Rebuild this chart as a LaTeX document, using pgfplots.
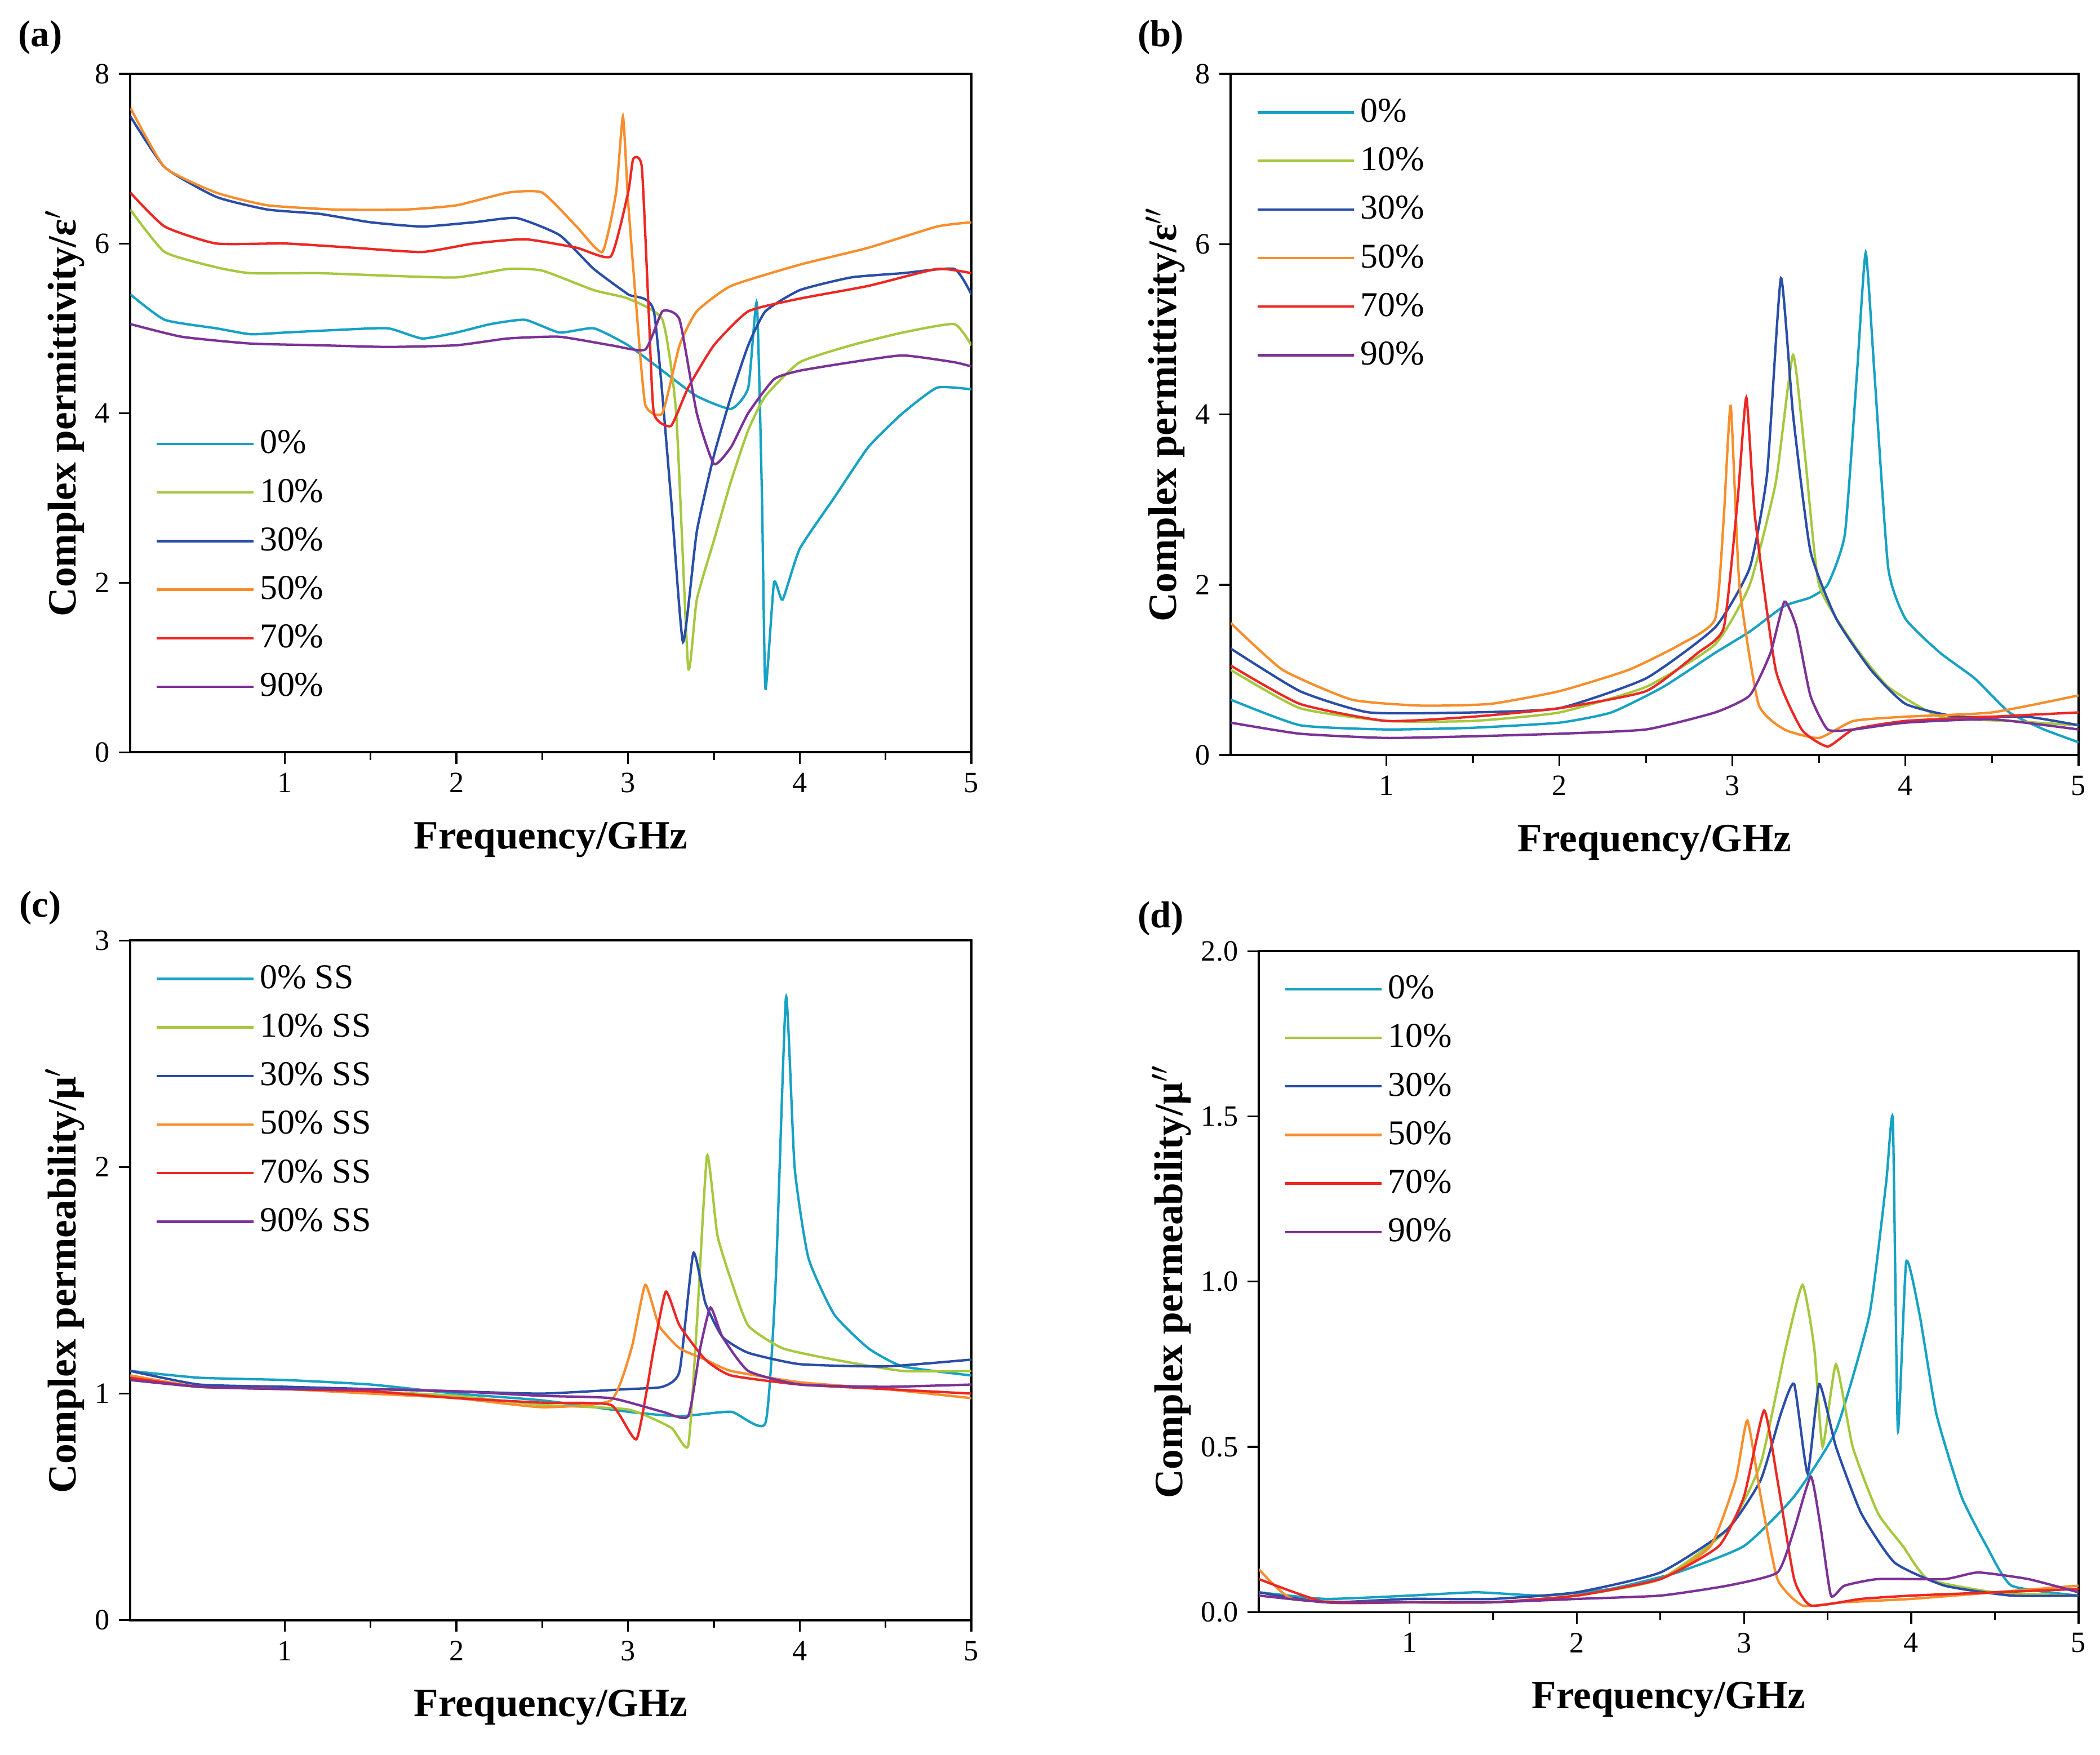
\documentclass[border=0pt]{standalone}
\usepackage{pgfplots}
\pgfplotsset{compat=1.18}
\usepackage{fontspec}
\setmainfont{Liberation Serif}
\definecolor{c0}{RGB}{23,162,196}
\definecolor{c1}{RGB}{166,200,62}
\definecolor{c3}{RGB}{42,78,168}
\definecolor{c5}{RGB}{247,142,44}
\definecolor{c7}{RGB}{236,40,36}
\definecolor{c9}{RGB}{124,50,150}
\pgfplotsset{
 base/.style={scale only axis, xmin=0.1, xmax=5, xtick={1,2,3,4,5},
  minor x tick num=1, axis line style={line width=0.8pt},
  tick align=outside, xtick pos=bottom, ytick pos=left,
  tick style={black, line width=0.7pt},
  /pgf/number format/assume math mode=true,
  ticklabel style={font=\rmfamily\fontsize{11}{11}\selectfont},
  label style={font=\rmfamily\bfseries\fontsize{15}{15}\selectfont},
  xlabel={Frequency/GHz}, xlabel style={yshift=-4pt}, ylabel style={yshift=-3pt},
  legend style={draw=none, fill=none, font=\rmfamily\fontsize{13}{15}\selectfont, row sep=4pt},
  legend cell align=left,
  legend image code/.code={\draw[#1] (0pt,0pt) -- (36pt,0pt);},
  every axis plot/.append style={line width=0.9pt, smooth, tension=0.3},
 }}
\begin{document}
\begin{tikzpicture}
\path[use as bounding box] (0,0) rectangle (781.5bp,653bp);
\node[font=\bfseries\fontsize{14}{14}\selectfont] at (15bp,639bp) {(a)};
\node[font=\bfseries\fontsize{14}{14}\selectfont] at (432bp,639bp) {(b)};
\node[font=\bfseries\fontsize{14}{14}\selectfont] at (15bp,315bp) {(c)};
\node[font=\bfseries\fontsize{14}{14}\selectfont] at (432bp,311bp) {(d)};
% (a)
\begin{axis}[base, at={(48.5bp,373bp)}, anchor=south west, width=313bp, height=252.5bp,
 ymin=0, ymax=8, ytick={0,2,4,6,8}, ylabel={Complex permittivity/ε$'$},
 legend style={at={(0.02,0.06)}, anchor=south west}]
\addplot[c0] coordinates {(0.1,5.4)(0.3,5.1)(0.6,5.0)(0.8,4.93)(1.0,4.95)(1.3,4.98)(1.6,5.0)(1.8,4.88)(2.0,4.95)(2.2,5.05)(2.4,5.1)(2.6,4.95)(2.8,5.0)(3.0,4.8)(3.2,4.5)(3.4,4.2)(3.6,4.05)(3.7,4.3)(3.75,5.3)(3.78,3.0)(3.8,0.75)(3.85,2.0)(3.9,1.8)(4.0,2.4)(4.2,3.0)(4.4,3.6)(4.6,4.0)(4.8,4.3)(5.0,4.28)};
\addplot[c1] coordinates {(0.1,6.4)(0.3,5.9)(0.6,5.72)(0.8,5.65)(1.2,5.65)(1.6,5.62)(2.0,5.6)(2.3,5.7)(2.5,5.68)(2.8,5.45)(3.0,5.35)(3.2,5.1)(3.28,4.0)(3.35,1.0)(3.4,1.8)(3.5,2.5)(3.6,3.2)(3.7,3.8)(3.8,4.2)(4.0,4.6)(4.3,4.8)(4.6,4.95)(4.9,5.05)(5.0,4.8)};
\addplot[c3] coordinates {(0.1,7.5)(0.3,6.9)(0.6,6.55)(0.9,6.4)(1.2,6.35)(1.5,6.25)(1.8,6.2)(2.1,6.25)(2.35,6.3)(2.6,6.1)(2.8,5.7)(3.0,5.4)(3.15,5.2)(3.25,3.0)(3.32,1.3)(3.4,2.6)(3.5,3.5)(3.6,4.2)(3.7,4.8)(3.8,5.2)(4.0,5.45)(4.3,5.6)(4.6,5.65)(4.9,5.7)(5.0,5.4)};
\addplot[c5] coordinates {(0.1,7.6)(0.3,6.9)(0.6,6.6)(0.9,6.45)(1.3,6.4)(1.7,6.4)(2.0,6.45)(2.3,6.6)(2.5,6.6)(2.7,6.2)(2.85,5.9)(2.93,6.6)(2.97,7.5)(3.0,6.5)(3.05,5.2)(3.1,4.1)(3.2,4.0)(3.3,4.8)(3.4,5.2)(3.6,5.5)(4.0,5.75)(4.4,5.95)(4.8,6.2)(5.0,6.25)};
\addplot[c7] coordinates {(0.1,6.6)(0.3,6.2)(0.6,6.0)(1.0,6.0)(1.4,5.95)(1.8,5.9)(2.1,6.0)(2.4,6.05)(2.7,5.95)(2.9,5.85)(3.0,6.6)(3.03,7.0)(3.08,6.9)(3.12,5.2)(3.15,4.0)(3.25,3.85)(3.35,4.3)(3.5,4.8)(3.7,5.2)(4.0,5.35)(4.4,5.5)(4.8,5.7)(5.0,5.65)};
\addplot[c9] coordinates {(0.1,5.05)(0.4,4.9)(0.8,4.82)(1.2,4.8)(1.6,4.78)(2.0,4.8)(2.3,4.88)(2.6,4.9)(2.9,4.8)(3.1,4.75)(3.2,5.2)(3.3,5.1)(3.4,4.0)(3.5,3.4)(3.6,3.6)(3.7,4.0)(3.85,4.4)(4.0,4.5)(4.3,4.6)(4.6,4.68)(4.9,4.6)(5.0,4.55)};
\legend{0\%,10\%,30\%,50\%,70\%,90\%}
\end{axis}
% (b)
\begin{axis}[base, at={(458bp,372bp)}, anchor=south west, width=315.5bp, height=253.5bp,
 ymin=0, ymax=8, ytick={0,2,4,6,8}, ylabel={Complex permittivity/ε$''$},
 legend style={at={(0.02,0.98)}, anchor=north west}]
\addplot[c0] coordinates {(0.1,0.65)(0.5,0.35)(1.0,0.3)(1.5,0.32)(2.0,0.38)(2.3,0.5)(2.6,0.8)(2.9,1.2)(3.1,1.45)(3.3,1.75)(3.45,1.85)(3.55,2.0)(3.65,2.6)(3.72,4.5)(3.77,5.9)(3.82,4.5)(3.9,2.2)(4.0,1.6)(4.2,1.2)(4.4,0.9)(4.6,0.5)(4.8,0.3)(5.0,0.15)};
\addplot[c1] coordinates {(0.1,1.0)(0.5,0.55)(1.0,0.4)(1.5,0.4)(2.0,0.5)(2.5,0.8)(2.9,1.3)(3.1,2.0)(3.25,3.2)(3.35,4.7)(3.42,3.5)(3.5,2.0)(3.7,1.3)(3.9,0.8)(4.2,0.45)(4.6,0.4)(5.0,0.35)};
\addplot[c3] coordinates {(0.1,1.25)(0.5,0.75)(0.9,0.5)(1.5,0.5)(2.0,0.55)(2.5,0.9)(2.9,1.5)(3.1,2.2)(3.2,3.3)(3.28,5.6)(3.35,4.0)(3.45,2.4)(3.6,1.6)(3.8,1.0)(4.0,0.6)(4.3,0.45)(4.7,0.45)(5.0,0.35)};
\addplot[c5] coordinates {(0.1,1.55)(0.4,1.0)(0.8,0.65)(1.2,0.58)(1.6,0.6)(2.0,0.75)(2.4,1.0)(2.7,1.3)(2.9,1.6)(2.95,2.8)(2.99,4.1)(3.04,2.0)(3.15,0.6)(3.3,0.3)(3.5,0.2)(3.7,0.4)(4.0,0.45)(4.5,0.5)(5.0,0.7)};
\addplot[c7] coordinates {(0.1,1.05)(0.5,0.6)(1.0,0.4)(1.5,0.45)(2.0,0.55)(2.5,0.75)(2.8,1.2)(2.95,1.5)(3.03,3.0)(3.08,4.2)(3.13,2.8)(3.25,1.0)(3.4,0.3)(3.55,0.1)(3.7,0.3)(4.0,0.4)(4.5,0.45)(5.0,0.5)};
\addplot[c9] coordinates {(0.1,0.38)(0.5,0.25)(1.0,0.2)(1.5,0.22)(2.0,0.25)(2.5,0.3)(2.9,0.5)(3.1,0.7)(3.22,1.2)(3.3,1.8)(3.37,1.5)(3.45,0.7)(3.55,0.3)(3.7,0.3)(4.0,0.38)(4.5,0.42)(5.0,0.3)};
\legend{0\%,10\%,30\%,50\%,70\%,90\%}
\end{axis}
% (c)
\begin{axis}[base, at={(48.5bp,50bp)}, anchor=south west, width=313bp, height=253bp,
 ymin=0, ymax=3, ytick={0,1,2,3}, ylabel={Complex permeability/μ$'$},
 legend style={at={(0.02,0.98)}, anchor=north west}]
\addplot[c0] coordinates {(0.1,1.1)(0.5,1.07)(1.0,1.06)(1.5,1.04)(2.0,1.0)(2.5,0.97)(3.0,0.92)(3.3,0.9)(3.6,0.92)(3.8,0.87)(3.86,1.5)(3.92,2.75)(3.97,2.0)(4.05,1.6)(4.2,1.35)(4.4,1.2)(4.6,1.12)(5.0,1.08)};
\addplot[c1] coordinates {(0.1,1.08)(0.5,1.03)(1.0,1.03)(1.5,1.01)(2.0,0.99)(2.5,0.95)(3.0,0.93)(3.25,0.85)(3.35,0.77)(3.4,1.3)(3.46,2.05)(3.52,1.7)(3.6,1.5)(3.7,1.3)(3.9,1.2)(4.2,1.15)(4.6,1.1)(5.0,1.1)};
\addplot[c3] coordinates {(0.1,1.1)(0.5,1.04)(1.0,1.03)(1.5,1.02)(2.0,1.01)(2.5,1.0)(3.0,1.02)(3.2,1.03)(3.3,1.1)(3.38,1.62)(3.45,1.4)(3.55,1.25)(3.7,1.18)(4.0,1.13)(4.5,1.12)(5.0,1.15)};
\addplot[c5] coordinates {(0.1,1.08)(0.5,1.03)(1.0,1.02)(1.5,1.0)(2.0,0.98)(2.5,0.94)(2.9,0.97)(3.02,1.2)(3.1,1.48)(3.18,1.3)(3.3,1.2)(3.45,1.15)(3.6,1.1)(4.0,1.05)(4.5,1.02)(5.0,0.98)};
\addplot[c7] coordinates {(0.1,1.07)(0.5,1.03)(1.0,1.02)(1.5,1.01)(2.0,0.98)(2.5,0.96)(2.9,0.95)(3.05,0.8)(3.15,1.2)(3.22,1.45)(3.3,1.3)(3.45,1.15)(3.6,1.08)(4.0,1.04)(4.5,1.02)(5.0,1.0)};
\addplot[c9] coordinates {(0.1,1.06)(0.5,1.03)(1.0,1.02)(1.5,1.02)(2.0,1.01)(2.5,0.99)(2.9,0.98)(3.2,0.92)(3.35,0.9)(3.42,1.2)(3.48,1.38)(3.55,1.25)(3.7,1.1)(4.0,1.04)(4.5,1.03)(5.0,1.04)};
\legend{0\% SS,10\% SS,30\% SS,50\% SS,70\% SS,90\% SS}
\end{axis}
% (d)
\begin{axis}[base, at={(468.5bp,53bp)}, anchor=south west, width=305bp, height=246bp,
 ymin=0, ymax=2, ytick={0,0.5,1,1.5,2}, yticklabel style={/pgf/number format/fixed, /pgf/number format/fixed zerofill, /pgf/number format/precision=1},
 ylabel={Complex permeability/μ$''$},
 legend style={at={(0.02,0.98)}, anchor=north west}]
\addplot[c0] coordinates {(0.1,0.06)(0.5,0.04)(1.0,0.05)(1.4,0.06)(1.8,0.05)(2.2,0.07)(2.6,0.12)(3.0,0.2)(3.3,0.35)(3.55,0.55)(3.75,0.9)(3.85,1.3)(3.89,1.49)(3.92,0.55)(3.97,1.06)(4.05,0.9)(4.15,0.6)(4.3,0.35)(4.45,0.2)(4.6,0.08)(5.0,0.05)};
\addplot[c1] coordinates {(0.1,0.06)(0.5,0.03)(1.0,0.03)(1.5,0.03)(2.0,0.05)(2.5,0.1)(2.9,0.25)(3.1,0.45)(3.25,0.8)(3.35,0.99)(3.42,0.8)(3.47,0.5)(3.55,0.75)(3.65,0.5)(3.8,0.3)(3.95,0.2)(4.1,0.1)(4.5,0.06)(5.0,0.05)};
\addplot[c3] coordinates {(0.1,0.06)(0.5,0.03)(1.0,0.04)(1.5,0.04)(2.0,0.06)(2.5,0.12)(2.9,0.25)(3.1,0.4)(3.22,0.6)(3.3,0.69)(3.38,0.42)(3.45,0.69)(3.55,0.5)(3.7,0.3)(3.9,0.15)(4.2,0.08)(4.6,0.05)(5.0,0.05)};
\addplot[c5] coordinates {(0.1,0.13)(0.3,0.04)(0.8,0.03)(1.5,0.03)(2.0,0.05)(2.5,0.1)(2.8,0.2)(2.95,0.4)(3.02,0.58)(3.1,0.35)(3.2,0.1)(3.35,0.02)(3.6,0.03)(4.0,0.04)(4.5,0.06)(5.0,0.08)};
\addplot[c7] coordinates {(0.1,0.1)(0.5,0.03)(1.0,0.03)(1.5,0.03)(2.0,0.05)(2.5,0.1)(2.85,0.2)(3.0,0.35)(3.12,0.61)(3.2,0.4)(3.3,0.1)(3.4,0.02)(3.7,0.04)(4.0,0.05)(4.5,0.06)(5.0,0.07)};
\addplot[c9] coordinates {(0.1,0.05)(0.5,0.03)(1.0,0.03)(1.5,0.03)(2.0,0.04)(2.5,0.05)(2.9,0.08)(3.2,0.12)(3.3,0.25)(3.4,0.41)(3.46,0.25)(3.52,0.05)(3.6,0.08)(3.8,0.1)(4.2,0.1)(4.4,0.12)(4.7,0.1)(5.0,0.06)};
\legend{0\%,10\%,30\%,50\%,70\%,90\%}
\end{axis}
\end{tikzpicture}
\end{document}
